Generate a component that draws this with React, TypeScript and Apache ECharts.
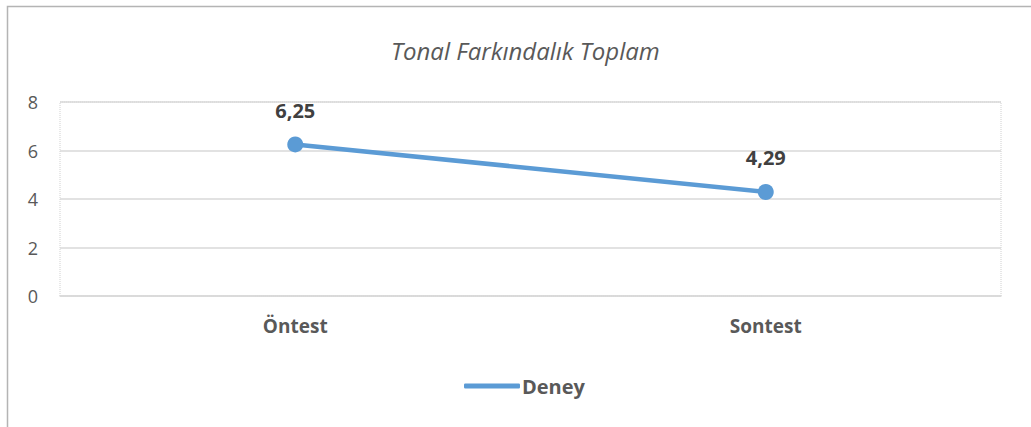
import React, { useEffect, useRef } from "react";
import * as echarts from "echarts";

const categories = ["Öntest", "Sontest"];
const seriesName = "Deney";
const values = [6.25, 4.29];
const titleText = "Tonal Farkındalık Toplam";

export default function App() {
  const ref = useRef<HTMLDivElement>(null);
  useEffect(() => {
    if (!ref.current) return;
    const chart = echarts.init(ref.current, undefined, { renderer: "svg" });
    const font = "'Open Sans', 'Noto Sans', sans-serif";
    chart.setOption({
      animation: false,
      backgroundColor: "#ffffff",
      textStyle: { fontFamily: font },
      title: {
        text: titleText,
        left: 386,
        top: 33,
        textStyle: { fontFamily: font, fontSize: 24, fontStyle: "italic", fontWeight: "normal", color: "#595959" },
      },
      graphic: [
        {
          type: "rect",
          shape: { x: 7.5, y: 6.5, width: 1100, height: 500 },
          style: { fill: "none", stroke: "#b4b4b4", lineWidth: 1.5 },
          silent: true,
          z: 100,
        },
      ],
      legend: {
        data: [seriesName],
        top: 371,
        left: 459,
        icon: "roundRect",
        itemWidth: 56,
        itemHeight: 5,
        itemGap: 4,
        textStyle: { fontFamily: font, fontSize: 20, fontWeight: "bold", color: "#595959", padding: [0, 0, 0, -3] },
      },
      grid: {
        left: 60,
        right: 30,
        top: 102,
        bottom: 131,
        show: true,
        borderColor: "#d0d0d0",
        borderWidth: 1,
        borderType: "dotted",
      },
      xAxis: {
        type: "category",
        data: categories,
        boundaryGap: true,
        axisTick: { show: false },
        axisLine: { show: true, lineStyle: { color: "#d9d9d9", width: 1.5 } },
        axisLabel: { fontFamily: font, fontSize: 19, fontWeight: "bold", color: "#595959", margin: 20 },
      },
      yAxis: {
        type: "value",
        min: 0,
        max: 8,
        interval: 2,
        axisLine: { show: false },
        axisTick: { show: false },
        splitLine: { lineStyle: { color: "#d9d9d9", width: 1.5 } },
        axisLabel: { fontFamily: font, fontSize: 18, color: "#595959", margin: 22 },
      },
      series: [
        {
          name: seriesName,
          type: "line",
          data: values,
          symbol: "circle",
          symbolSize: 16,
          lineStyle: { color: "#5B9BD5", width: 4.5 },
          itemStyle: { color: "#5B9BD5" },
          label: {
            show: true,
            position: "top",
            distance: 16,
            fontFamily: font,
            fontSize: 20,
            fontWeight: "bold",
            color: "#404040",
            formatter: (p: any) => String(p.value).replace(".", ","),
          },
        },
      ],
    });
    return () => chart.dispose();
  }, []);
  return <div ref={ref} style={{ position: "fixed", left: 0, top: 0, width: 1031, height: 427 }} />;
}
